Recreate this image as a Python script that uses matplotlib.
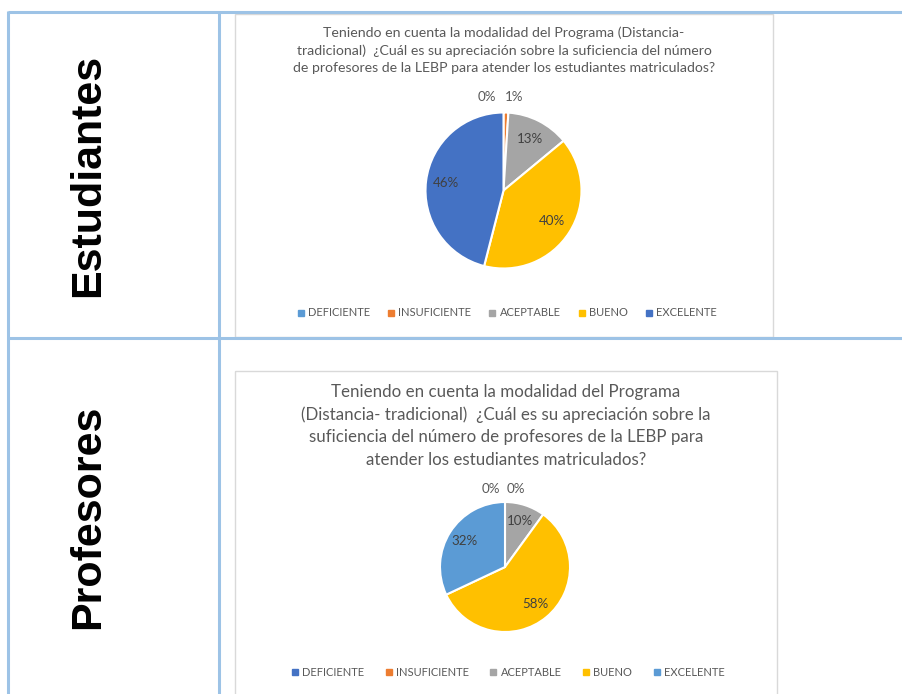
import matplotlib
matplotlib.use("Agg")
import matplotlib.pyplot as plt
from matplotlib.lines import Line2D
from matplotlib.patches import Rectangle
import numpy as np

# ---------------- data ----------------
categories = ["DEFICIENTE", "INSUFICIENTE", "ACEPTABLE", "BUENO", "EXCELENTE"]
est_values = [0, 1, 13, 40, 46]
prof_values = [0, 0, 10, 58, 32]
est_colors = ["#5B9BD5", "#ED7D31", "#A5A5A5", "#FFC000", "#4472C4"]
prof_colors = ["#4472C4", "#ED7D31", "#A5A5A5", "#FFC000", "#5B9BD5"]
row_labels = ["Estudiantes", "Profesores"]
title_est = ["Teniendo en cuenta la modalidad del Programa (Distancia-",
             "tradicional)  ¿Cuál es su apreciación sobre la suficiencia del número",
             "de profesores de la LEBP para atender los estudiantes matriculados?"]
title_prof = ["Teniendo en cuenta la modalidad del Programa",
              "(Distancia- tradicional)  ¿Cuál es su apreciación sobre la",
              "suficiencia del número de profesores de la LEBP para",
              "atender los estudiantes matriculados?"]

W, H = 902, 694
FONT = "Lato"
fig = plt.figure(figsize=(W / 100, H / 100), dpi=100)
fig.patch.set_facecolor("white")

bg = fig.add_axes([0, 0, 1, 1])
bg.set_xlim(0, W)
bg.set_ylim(H, 0)
bg.axis("off")

# table borders
bc = "#9DC3E6"
blw = 2.2
bg.plot([8, W], [12, 12], color=bc, lw=blw, solid_capstyle="butt")
bg.plot([8, W], [338, 338], color=bc, lw=blw, solid_capstyle="butt")
bg.plot([8, 8], [11, H], color=bc, lw=blw, solid_capstyle="butt")
bg.plot([219, 219], [11, H], color=bc, lw=blw, solid_capstyle="butt")

# chart boxes
bg.add_patch(Rectangle((235, 14), 538, 323, fill=False, ec="#D9D9D9", lw=1))
bg.add_patch(Rectangle((235, 371), 542, 340, fill=False, ec="#D9D9D9", lw=1))

# row labels
bg.text(88, 175, row_labels[0], rotation=90, ha="center", va="center",
        fontsize=31, fontweight="bold", family="Liberation Sans", color="black")
bg.text(88, 517, row_labels[1], rotation=90, ha="center", va="center",
        fontsize=31, fontweight="bold", family="Liberation Sans", color="black")

# titles
for i, line in enumerate(title_est):
    bg.text(504, 33 + i * 17.5, line, ha="center", va="center",
            fontsize=10.2, family=FONT, color="#595959")
for i, line in enumerate(title_prof):
    bg.text(506, 392 + i * 22.7, line, ha="center", va="center",
            fontsize=12.2, family=FONT, color="#595959")


def draw_pie(values, colors, cx, cy, r, lab_fs, small_dx):
    R = 1.45
    ax = fig.add_axes([(cx - R * r) / W, 1 - (cy + R * r) / H, 2 * R * r / W, 2 * R * r / H])
    wedges, _ = ax.pie(values, colors=colors, startangle=90, counterclock=False,
                       radius=1, wedgeprops=dict(edgecolor="white", linewidth=1.5))
    ax.set_xlim(-R, R)
    ax.set_ylim(-R, R)
    ax.axis("off")
    total = float(sum(values))
    k = 0
    for w, v in zip(wedges, values):
        mid = np.deg2rad((w.theta1 + w.theta2) / 2)
        pct = v / total * 100
        txt = f"{pct:.0f}%"
        if pct < 3:
            x = 1.2 * np.cos(mid) + small_dx[k]
            y = 1.2 * np.sin(mid)
            k += 1
            col = "#595959"
        else:
            x = 0.74 * np.cos(mid)
            y = 0.74 * np.sin(mid)
            col = "#404040"
        ax.text(x, y, txt, ha="center", va="center", fontsize=lab_fs,
                family=FONT, color=col)
    return ax


draw_pie(est_values, est_colors, 503.5, 190.5, 78, 9.6, [-0.21, 0.1])
draw_pie(prof_values, prof_colors, 505, 567, 65, 9.6, [-0.21, 0.16])


def draw_legend(colors, cx, cy, spacing):
    handles = [Line2D([], [], marker="s", linestyle="", markersize=4.5,
                      markerfacecolor=c, markeredgecolor=c) for c in colors]
    leg = fig.legend(handles, categories, loc="center",
                     bbox_to_anchor=(cx / W, 1 - cy / H), ncol=5, frameon=False,
                     prop=dict(family=FONT, size=8.0), handlelength=0.6,
                     handletextpad=0.35, columnspacing=spacing, borderpad=0)
    for t in leg.get_texts():
        t.set_color("#595959")
    return leg


draw_legend(est_colors, 507, 313, 1.6)
draw_legend(prof_colors, 508, 672, 1.9)

fig.savefig("out.png", dpi=100, facecolor="white")
